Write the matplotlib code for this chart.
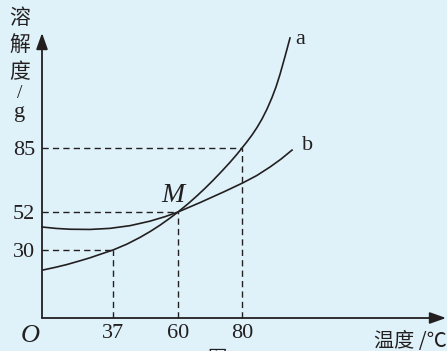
import numpy as np
import matplotlib
matplotlib.use('Agg')
import matplotlib.pyplot as plt

# solubility curves, temperature in C and solubility in g
temp_a = [0.52, 6.77, 13.03, 19.80, 25.01, 31.27, 37, 41.95, 46.55, 50.09, 53.63, 57.17, 60,
          63.13, 65.94, 68.44, 70.94, 73.75, 76.25, 78.44, 80, 81.56, 83.13, 84.69, 86.25,
          87.81, 89.38, 90.63, 91.88, 93.44, 95.0]
sol_a = [21.18, 22.32, 23.60, 25.24, 26.56, 28.37, 30, 33.42, 37.29, 40.65, 44.36, 48.47, 52,
         56.23, 60.35, 64.22, 68.29, 73.14, 77.63, 81.80, 85, 88.15, 91.5, 95.25, 99.5,
         104.45, 110.25, 115.55, 121.85, 130.75, 140]
temp_b = [0, 7.30, 14.59, 25.01, 35.44, 43.02, 50.09, 55.40, 60, 66.88, 74.69, 80.31,
          84.69, 88.75, 92.19, 95.63]
sol_b = [43.32, 42.50, 42.02, 41.90, 42.53, 44.09, 46.70, 49.30, 52, 56.85, 62.67, 67.06,
         70.87, 75.20, 79.28, 83.92]

x_ticks = [37, 60, 80]
y_ticks = [30, 52, 85]
marked = [(37, 30), (60, 52), (80, 85)]

# the sketch is not to scale: pixel position of each marked value
x_marks = [-50, 0, 37, 60, 80, 300]
x_pos = [-53.9, 42, 113, 178, 242, 946]
y_marks = [-50, 0, 30, 52, 85, 300]
y_pos = [-80.3, 33, 101, 139, 203, 633]

fx = lambda t: np.interp(t, x_marks, x_pos)
ix = lambda p: np.interp(p, x_pos, x_marks)
fy = lambda s: np.interp(s, y_marks, y_pos)
iy = lambda p: np.interp(p, y_pos, y_marks)

ink = '#231f20'
bg = '#dff2fa'
serif = 'Liberation Serif'
cjk = ['Noto Sans CJK SC', 'DejaVu Sans']

W, H = 447, 351
fig = plt.figure(figsize=(W / 100, H / 100), dpi=100, facecolor=bg)
ax = fig.add_axes([0, 0, 1, 1])
ax.set_facecolor(bg)
ax.set_xscale('function', functions=(fx, ix))
ax.set_yscale('function', functions=(fy, iy))
ax.set_xlim(float(ix(0)), float(ix(W)))
ax.set_ylim(float(iy(0)), float(iy(H)))

for s in ax.spines.values():
    s.set_visible(False)
ax.spines['bottom'].set_position(('data', 0))
ax.spines['left'].set_position(('data', 0))

ax.set_xticks(x_ticks)
ax.set_yticks(y_ticks)
ax.set_xticklabels([str(v) for v in x_ticks], family=serif, fontsize=16, color=ink)
ax.set_yticklabels([str(v) for v in y_ticks], family=serif, fontsize=16, color=ink)
ax.tick_params(length=0)
ax.tick_params(axis='x', pad=4)
ax.tick_params(axis='y', pad=5)

# axes with arrow heads
arrow = dict(arrowstyle='-|>,head_length=0.7,head_width=0.25', color=ink, lw=1.3,
             shrinkA=0, shrinkB=0, mutation_scale=14)
ax.annotate('', xy=(float(ix(W - 1)), 0), xytext=(0, 0), arrowprops=arrow)
ax.annotate('', xy=(0, float(iy(H - 33))), xytext=(0, 0), arrowprops=arrow)

# guide lines
for t, s in marked:
    ax.plot([0, t], [s, s], ls=(0, (4.5, 3)), lw=1, color=ink)
    ax.plot([t, t], [0, s], ls=(0, (4.5, 3)), lw=1, color=ink)

ax.plot(temp_a, sol_a, color=ink, lw=1.2)
ax.plot(temp_b, sol_b, color=ink, lw=1.2)


def px(x, y):
    return x / W, 1 - y / H


fig.text(*px(300, 39), 'a', family=serif, fontsize=16, color=ink, ha='center', va='center')
fig.text(*px(308, 146), 'b', family=serif, fontsize=16, color=ink, ha='center', va='center')
fig.text(*px(173, 195), 'M', family=serif, style='italic', fontsize=20, color=ink,
         ha='center', va='center')
fig.text(*px(30, 336), 'O', family=serif, style='italic', fontsize=19, color=ink,
         ha='center', va='center')
fig.text(*px(447, 341), '温度 /℃', family=cjk, fontsize=14.5, color=ink, ha='right', va='center')

for ch, y in zip(['溶', '解', '度'], [18, 45, 72]):
    fig.text(*px(20, y), ch, family=cjk, fontsize=15, color=ink, ha='center', va='center')
fig.text(*px(20, 93), '/', family=serif, fontsize=14, color=ink, ha='center', va='center')
fig.text(*px(20, 112), 'g', family=serif, fontsize=16, color=ink, ha='center', va='center')
fig.text(*px(217, 348), '图', family=cjk, fontsize=14, color=ink, ha='center', va='top')

fig.savefig('out.png', dpi=100, facecolor=bg)
